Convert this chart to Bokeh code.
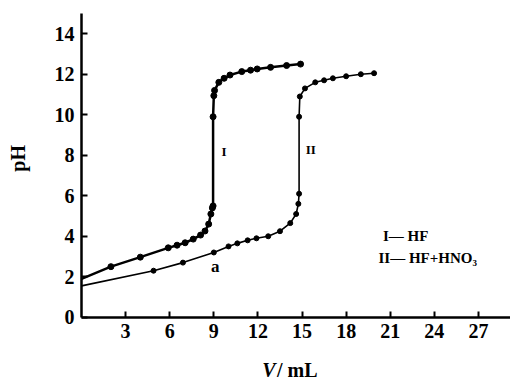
from bokeh.plotting import figure
from bokeh.models import FixedTicker, Label, Range1d
from bokeh.embed import file_html
from bokeh.resources import INLINE
import math

# Curve I: HF
v1 = [0, 2.0, 4.0, 5.9, 6.5, 7.05, 7.6, 8.1, 8.4, 8.65, 8.8, 8.9, 8.95, 8.95, 9.0, 9.05, 9.34, 9.7, 10.1, 10.9, 11.5, 11.95, 12.86, 13.95, 14.9]
ph1 = [1.9, 2.5, 2.97, 3.43, 3.56, 3.68, 3.86, 4.06, 4.26, 4.6, 5.1, 5.4, 5.5, 9.9, 10.94, 11.2, 11.6, 11.8, 11.96, 12.13, 12.2, 12.26, 12.34, 12.43, 12.5]

# Curve II: HF + HNO3
v2 = [0, 4.9, 6.9, 9.0, 10.0, 10.6, 11.3, 11.9, 12.7, 13.5, 14.2, 14.6, 14.75, 14.8, 14.8, 14.85, 15.2, 15.9, 16.5, 17.1, 18.0, 19.0, 19.9]
ph2 = [1.55, 2.3, 2.7, 3.2, 3.5, 3.65, 3.8, 3.9, 4.0, 4.25, 4.65, 5.1, 5.6, 6.1, 9.9, 10.9, 11.3, 11.6, 11.7, 11.8, 11.9, 12.0, 12.05]

x_ticks = [3, 6, 9, 12, 15, 18, 21, 24, 27]
y_ticks = [0, 2, 4, 6, 8, 10, 12, 14]

FONT = "Liberation Serif"

p = figure(width=510, height=380, output_backend="svg", toolbar_location=None,
           x_range=Range1d(-5.51, 29.18), y_range=Range1d(-3.12, 15.64),
           min_border_left=0, min_border_right=0, min_border_top=0, min_border_bottom=0)
p.outline_line_color = None
p.grid.visible = False

for ax in (p.xaxis[0], p.yaxis[0]):
    ax.axis_line_width = 2.5
    ax.axis_line_color = "black"
    ax.major_tick_line_width = 2
    ax.major_tick_in = 6
    ax.major_tick_out = 0
    ax.minor_tick_line_color = None
    ax.major_label_text_font = FONT
    ax.major_label_text_font_style = "bold"
    ax.major_label_text_font_size = "20px"
    ax.major_label_text_color = "black"

p.xaxis.fixed_location = 0
p.yaxis.fixed_location = 0
p.xaxis.bounds = (0, 29.18)
p.yaxis.bounds = (0, 15.0)
p.xaxis.ticker = FixedTicker(ticks=x_ticks)
p.yaxis.ticker = FixedTicker(ticks=y_ticks)
p.xaxis.major_label_standoff = 7
p.yaxis.major_label_standoff = 7

p.line(v1, ph1, line_width=2.5, color="black")
p.scatter(v1[1:], ph1[1:], size=6, color="black")
p.line(v2, ph2, line_width=1.6, color="black")
p.scatter(v2[1:], ph2[1:], size=5, color="black")

def lab(x, y, t, size="15px", style="bold", align="center", angle=0):
    p.add_layout(Label(x=x, y=y, text=t, text_font=FONT, text_font_size=size,
                       text_font_style=style, text_align=align, text_baseline="middle",
                       text_color="black", angle=angle))

lab(9.7, 8.2, "I", "13px")
lab(15.6, 8.3, "II", "13px")
lab(9.1, 2.5, "a", "17px")

# axis titles
lab(-4.3, 7.85, "pH", "20px", "bold", "center", math.pi / 2)
lab(13.2, -2.6, "V", "20px", "bold italic", "right")
lab(13.3, -2.6, " / mL", "20px", "bold", "left")

lab(20.5, 4.0, "I— HF", "15px", "bold", "left")
lab(20.2, 2.95, "II— HF+HNO₃", "15px", "bold", "left")

open("out.html", "w").write(file_html(p, INLINE))
